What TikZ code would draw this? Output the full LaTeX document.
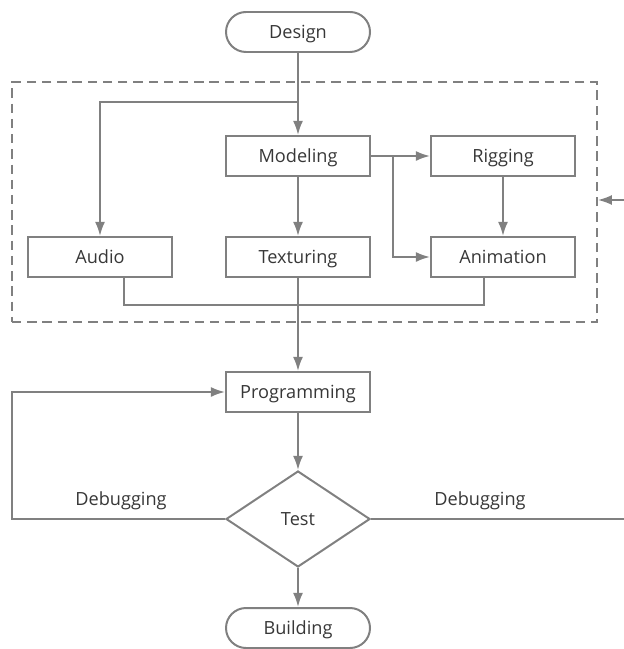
\documentclass[tikz,border=0pt]{standalone}
\usepackage{fontspec}
\setmainfont{Open Sans}
\usetikzlibrary{arrows.meta,shapes.geometric,calc}
\definecolor{linegray}{RGB}{128,128,128}
\definecolor{textgray}{RGB}{55,55,55}
\newcommand{\flowarrowtip}{Latex[length=12pt,width=8.5pt]}
\tikzstyle{flow}=[-\flowarrowtip,linegray,line width=1.7pt]
\tikzstyle{plain}=[linegray,line width=1.7pt]
\tikzstyle{stepbox}=[draw=linegray,line width=1.7pt,rectangle,minimum width=4.32cm,
                     minimum height=1.2cm,inner sep=0pt,text=textgray,
                     text height=11pt,text depth=0pt,font=\fontsize{15.5}{18}\selectfont]
\tikzstyle{terminal}=[stepbox,rounded corners=0.6cm]
\tikzstyle{decision}=[stepbox,diamond,aspect=1.5,minimum width=4.32cm,minimum height=2.88cm]
\tikzstyle{label}=[text=textgray,font=\fontsize{15.5}{18}\selectfont,inner sep=0pt,
                   text height=11pt,text depth=0pt]

\begin{document}
\begin{tikzpicture}[x=0.03cm,y=-0.03cm]

  % Page size (pixels of the original)
  \useasboundingbox (0,0) rectangle (624,649);

  % Asset group
  \node[draw=linegray,line width=1.4pt,dash pattern=on 8pt off 5pt,
        minimum width=17.55cm,minimum height=7.2cm,inner sep=0pt]
        at (304.5,202) (group) {};

  % Steps
  \node[terminal] at (298,32)  (design)    {Design};
  \node[stepbox]  at (298,156) (modeling)  {Modeling};
  \node[stepbox]  at (503,156) (rigging)   {Rigging};
  \node[stepbox]  at (100,257) (audio)     {Audio};
  \node[stepbox]  at (298,257) (texturing) {Texturing};
  \node[stepbox]  at (503,257) (animation) {Animation};
  \node[stepbox]  at (298,392) (programming) {Programming};
  \node[decision] at (298,519) (test)      {Test};
  \node[terminal] at (298,628) (building)  {Building};

  % Turning points
  \coordinate (split) at (298,102);
  \coordinate (fork) at (393,156);
  \coordinate (join) at (298,305);
  \coordinate (lloop) at (12,519);
  \coordinate (rloop) at (660,519);

  % Arrows
  \draw[flow] (design) -- (modeling);
  \draw[flow] (split) -| (audio);
  \draw[flow] (modeling) -- (rigging);
  \draw[flow] (fork) |- (animation);
  \draw[flow] (rigging) -- (animation);
  \draw[flow] (modeling) -- (texturing);
  \draw[plain] (audio.south -| 124,0) |- (join) -| (animation.south -| 484,0);
  \draw[flow] (texturing) -- (programming);
  \draw[flow] (programming) -- (test);
  \draw[flow] (test) -- (building);

  % Debugging loops
  \draw[flow] (test.west) -- (lloop) |- (programming.west);
  \draw[flow] (test.east) -- (rloop) |- ($(group.east)+(0,-2)$);

  % Loop labels
  \node[label] at (121,499) (debugl) {Debugging};
  \node[label] at (480,499) (debugr) {Debugging};

\end{tikzpicture}
\end{document}
